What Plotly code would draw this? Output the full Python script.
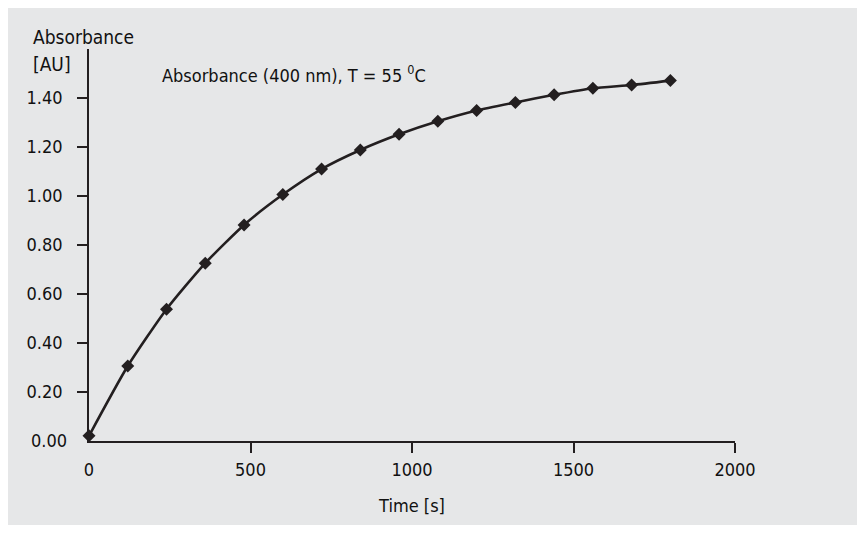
import plotly.graph_objects as go

# ---- data ----
time_s = [0, 120, 240, 360, 480, 600, 720, 840, 960, 1080, 1200, 1320, 1440, 1560, 1680, 1800]
absorbance = [0.021, 0.306, 0.538, 0.726, 0.882, 1.006, 1.110, 1.188, 1.252, 1.305,
              1.349, 1.382, 1.413, 1.440, 1.453, 1.471]
x_tickvals = [500, 1000, 1500, 2000]
y_tickvals = [0.2, 0.4, 0.6, 0.8, 1.0, 1.2, 1.4]
y_ticktext = ["0.20", "0.40", "0.60", "0.80", "1.00", "1.20", "1.40"]

FONT = "DejaVu Sans Condensed, Roboto, sans-serif"
INK = "#231f20"
BG = "#e6e7e8"

W, H = 849, 517
L, T = 81, 41
B = H - 436.5
R = W - 727.5
pw, ph = W - L - R, H - T - B

def px_x(px):
    return (px - L) / pw

def px_y(py):
    return (H - B - py) / ph

fig = go.Figure()
fig.add_trace(go.Scatter(
    x=time_s, y=absorbance, mode="lines+markers",
    line=dict(color=INK, width=2.6, shape="spline", smoothing=0.6),
    marker=dict(symbol="diamond", size=10, color=INK),
    cliponaxis=False, showlegend=False, hoverinfo="x+y",
))
# invisible helper trace to host the zero tick labels on overlay axes
fig.add_trace(go.Scatter(x=[0], y=[0], xaxis="x2", yaxis="y2", mode="markers",
                         marker=dict(opacity=0), showlegend=False, hoverinfo="skip"))

fig.update_layout(
    width=W, height=H,
    margin=dict(l=L, r=R, t=T, b=B),
    paper_bgcolor=BG, plot_bgcolor=BG,
    font=dict(family=FONT, size=18, color="#111111"),
    xaxis=dict(range=[0, 2000], tickvals=x_tickvals, ticks="outside", ticklen=10,
               tickwidth=1.5, tickcolor=INK, showline=True, linecolor=INK, linewidth=1.8,
               showgrid=False, zeroline=False, ticklabelstandoff=1,
               title=dict(text="Time [s]", standoff=21, font=dict(size=18))),
    yaxis=dict(range=[0, 1.6], tickvals=y_tickvals, ticktext=y_ticktext, ticks="outside",
               ticklen=10, tickwidth=1.5, tickcolor=INK, showline=True, linecolor=INK,
               linewidth=1.8, showgrid=False, zeroline=False, ticklabelstandoff=11),
    xaxis2=dict(range=[0, 2000], overlaying="x", tickvals=[0], ticks="", showline=False,
                showgrid=False, zeroline=False, ticklabelstandoff=16, anchor="y2"),
    yaxis2=dict(range=[0, 1.6], overlaying="y", tickvals=[0], ticktext=["0.00"], ticks="",
                showline=False, showgrid=False, zeroline=False, ticklabelstandoff=21,
                anchor="x2", side="left"),
    annotations=[
        dict(text="Absorbance", xref="paper", yref="paper", x=px_x(23), y=px_y(29),
             xanchor="left", yanchor="middle", showarrow=False, font=dict(size=19)),
        dict(text="[AU]", xref="paper", yref="paper", x=px_x(23), y=px_y(56),
             xanchor="left", yanchor="middle", showarrow=False, font=dict(size=19)),
        dict(text="Absorbance (400 nm), T = 55 <sup>0</sup>C", xref="paper", yref="paper",
             x=px_x(152), y=px_y(66), xanchor="left", yanchor="middle", showarrow=False,
             font=dict(size=18)),
    ],
)

fig.write_html("out.html")
